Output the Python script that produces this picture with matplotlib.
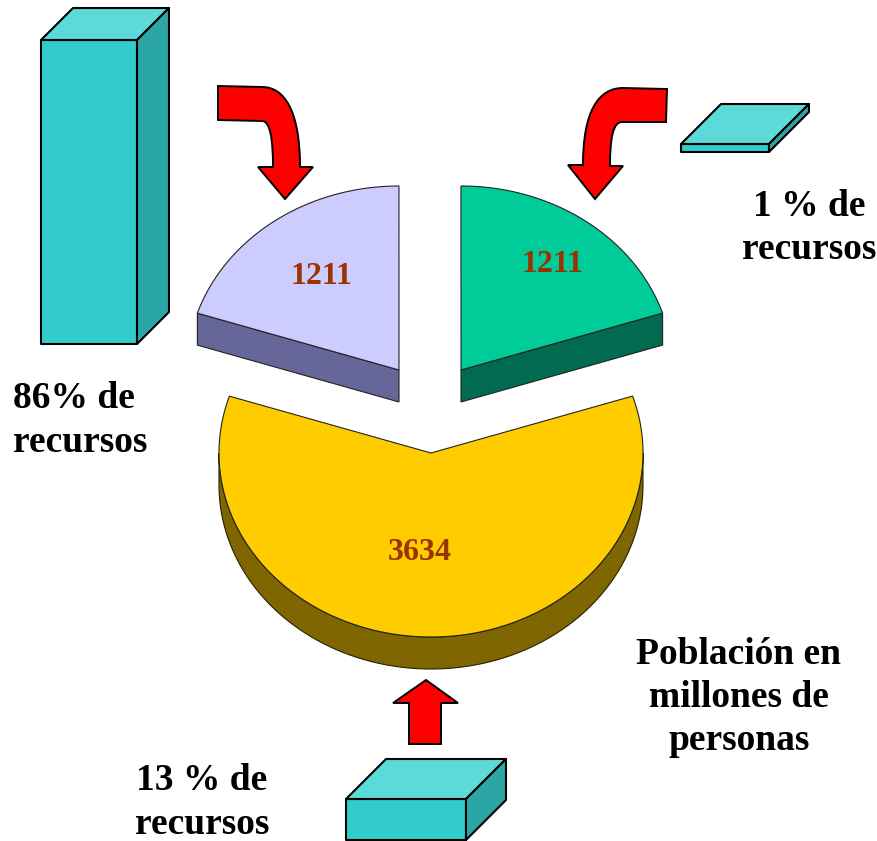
import numpy as np
import matplotlib
matplotlib.use("Agg")
import matplotlib.pyplot as plt
from matplotlib.patches import Polygon, PathPatch
from matplotlib.path import Path

# ---- data ----
slice_values = [1211, 1211, 3634]
slice_labels = ["1211", "1211", "3634"]
resource_pct = [86, 1, 13]
resource_labels = ["86% de\nrecursos", "1 % de\nrecursos", "13 % de\nrecursos"]
caption = "Población en\nmillones de\npersonas"

# ---- layout (pixels) ----
W, H = 878, 841
FONT = "Liberation Serif"
RX, RY, DEPTH = 212, 184, 32
START = -72
slice_apex = [(399, 370), (461, 370), (431, 453)]
slice_face = ["#CCCCFF", "#00CC99", "#FFCC00"]
slice_side = ["#666699", "#006B50", "#806600"]
slice_label_pos = [(321, 277), (552, 265), (420, 552)]
side_cut = [0, 1, None]  # which straight edge of the slice faces the viewer

bar_x = [41, 681, 346]
bar_w = [96, 88, 120]
bar_base = [344, 152, 840]
bar_scale = [304 / 86, 8.0, 41 / 13]
bar_depth = [32, 40, 40]
resource_label_pos = [(13, 420.5, "left"), (809, 228, "center"), (202, 802.5, "center")]

fig = plt.figure(figsize=(W / 100, H / 100), dpi=100)
ax = fig.add_axes([0, 0, 1, 1])
ax.set_xlim(0, W)
ax.set_ylim(H, 0)
ax.axis("off")


def arc(cx, cy, a0, a1, n=160):
    t = np.radians(np.linspace(a0, a1, n))
    return np.column_stack([cx + RX * np.sin(t), cy - RY * np.cos(t)])


# pie slices: angle comes from the values
angles = np.cumsum([0] + slice_values) / sum(slice_values) * 360 + START
for i, (c, face, side) in enumerate(zip(slice_apex, slice_face, slice_side)):
    a0, a1 = angles[i], angles[i + 1]
    cx, cy = c
    if side_cut[i] is None:  # large slice: outer rim is visible
        rim = arc(cx, cy, 90, 270)
        band = np.vstack([rim, (rim + [0, DEPTH])[::-1]])
        ax.add_patch(Polygon(band, closed=True, fc=side, ec="#222200", lw=0.8, zorder=2))
    else:  # small slice: the straight cut toward the viewer is visible
        a_side = (a0, a1)[side_cut[i]]
        edge = arc(cx, cy, a_side, a_side, 1)[0]
        q = np.array([[cx, cy], edge, edge + [0, DEPTH], [cx, cy + DEPTH]])
        ax.add_patch(Polygon(q, closed=True, fc=side, ec="#222222", lw=0.8, zorder=2))
    pts = np.vstack([[c], arc(cx, cy, a0, a1)])
    ax.add_patch(Polygon(pts, closed=True, fc=face, ec="#222222", lw=0.8, zorder=3))
    ax.text(*slice_label_pos[i], slice_labels[i], family=FONT, weight="bold",
            fontsize=23, color="#993300", ha="center", va="center", zorder=5)

# resource boxes: height comes from the percentages
for x, w, base, s, d, v in zip(bar_x, bar_w, bar_base, bar_scale, bar_depth, resource_pct):
    h = v * s
    top = base - h
    kw = dict(closed=True, ec="black", lw=1.5, joinstyle="round", zorder=4)
    ax.add_patch(Polygon([(x, top), (x + w, top), (x + w, base), (x, base)], fc="#33CCCC", **kw))
    ax.add_patch(Polygon([(x, top), (x + d, top - d), (x + w + d, top - d), (x + w, top)], fc="#5CD9D9", **kw))
    ax.add_patch(Polygon([(x + w, top), (x + w + d, top - d), (x + w + d, base - d), (x + w, base)], fc="#2BA6A6", **kw))

# red arrows (annotations)
M, L, C, Z = Path.MOVETO, Path.LINETO, Path.CURVE4, Path.CLOSEPOLY
arrow_left = Path(
    [(218, 86), (262, 87), (285, 87), (300, 112), (300, 167), (313, 167), (285, 199),
     (258, 167), (273, 167), (273, 138), (270, 121), (262, 121), (218, 120), (218, 86)],
    [M, L, C, C, C, L, L, L, L, C, C, C, L, Z])
arrow_right = Path(
    [(667, 89), (623, 88), (598, 88), (583, 112), (583, 165), (568, 165), (595, 199),
     (623, 166), (610, 166), (610, 138), (613, 121), (623, 122), (666, 122), (667, 89)],
    [M, L, C, C, C, L, L, L, L, C, C, C, L, Z])
arrow_up = Path(
    [(426, 680), (458, 703), (441, 703), (441, 744), (409, 744), (409, 703), (393, 703), (426, 680)],
    [M, L, L, L, L, L, L, Z])
for p in (arrow_left, arrow_right, arrow_up):
    ax.add_patch(PathPatch(p, fc="#FF0000", ec="black", lw=1.4, joinstyle="miter", zorder=6))

# texts
tkw = dict(family=FONT, weight="bold", fontsize=27, color="black", va="center",
           linespacing=1.31, zorder=7)
for (x, y, ha), lab in zip(resource_label_pos, resource_labels):
    ax.text(x, y, lab, ha=ha, multialignment=ha, **tkw)
ax.text(739, 697.5, caption, ha="center", multialignment="center", **tkw)

fig.savefig("out.png", dpi=100, facecolor="white")
